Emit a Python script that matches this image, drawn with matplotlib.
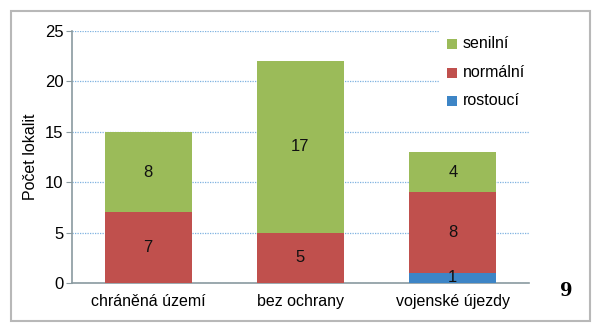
import numpy as np
import matplotlib.pyplot as plt
from matplotlib.patches import Rectangle

kategorie = ['chráněná území', 'bez ochrany', 'vojenské újezdy']
rostouci = [0, 0, 1]
normalni = [7, 5, 8]
senilni = [8, 17, 4]

barvy = {'senilní': '#9bbb59', 'normální': '#c0504d', 'rostoucí': '#3d85c6'}

W, H = 600, 333
fig = plt.figure(figsize=(W / 100, H / 100), dpi=100)
plt.rcParams['font.family'] = ['Liberation Sans', 'DejaVu Sans']

# rámeček kolem celého grafu
fig.patches.append(Rectangle((11 / W, 1 - 321 / H), 579 / W, 310 / H,
                             transform=fig.transFigure, fill=False,
                             edgecolor='#b8b8b8', linewidth=1.5))

ax = fig.add_axes([72 / W, 1 - 283 / H, 457 / W, 252 / H])
x = np.arange(len(kategorie))
sirka = 0.57

spodek = np.zeros(len(kategorie))
for nazev, hodnoty in [('rostoucí', rostouci), ('normální', normalni), ('senilní', senilni)]:
    hodnoty = np.array(hodnoty, dtype=float)
    ax.bar(x, hodnoty, sirka, bottom=spodek, color=barvy[nazev], zorder=3)
    for xi, b, h in zip(x, spodek, hodnoty):
        if h > 0:
            ax.text(xi, b + h / 2, str(int(h)), ha='center', va='center',
                    fontsize=12, color='#111111', zorder=4)
    spodek += hodnoty

ax.set_xlim(-0.5, 2.5)
ax.set_ylim(0, 25)
ax.set_yticks([0, 5, 10, 15, 20, 25])
ax.set_xticks(x)
ax.set_xticklabels(kategorie)
ax.tick_params(axis='y', length=4, color='#8a9aa0', labelsize=12, pad=2)
ax.tick_params(axis='x', length=0, labelsize=11.5, pad=8)
ax.set_ylabel('Počet lokalit', fontsize=11.5, labelpad=5)

for s in ['top', 'right']:
    ax.spines[s].set_visible(False)
for s in ['left', 'bottom']:
    ax.spines[s].set_color('#8a9aa0')
    ax.spines[s].set_linewidth(1.2)

ax.yaxis.grid(True, linestyle=(0, (1, 1)), color='#7fb2e0', linewidth=0.9, zorder=0)

# legenda vpravo nahoře, zakrývá konce mřížky
ax.add_patch(Rectangle((440 / W, 1 - 120 / H), 90 / W, 100 / H,
                       transform=fig.transFigure, facecolor='white',
                       edgecolor='none', zorder=2))
for i, nazev in enumerate(['senilní', 'normální', 'rostoucí']):
    yy = 1 - (44 + 28.5 * i) / H
    fig.patches.append(Rectangle((447 / W, yy - 5 / H), 10 / W, 10 / H,
                                 transform=fig.transFigure, facecolor=barvy[nazev],
                                 edgecolor='none', zorder=5))
    fig.text(463 / W, yy, nazev, fontsize=11.5, va='center', ha='left')

fig.text(566 / W, 1 - 291 / H, '9', fontsize=13, fontweight='bold',
         family='DejaVu Serif', ha='center', va='center')

fig.savefig('out.png', dpi=100)
